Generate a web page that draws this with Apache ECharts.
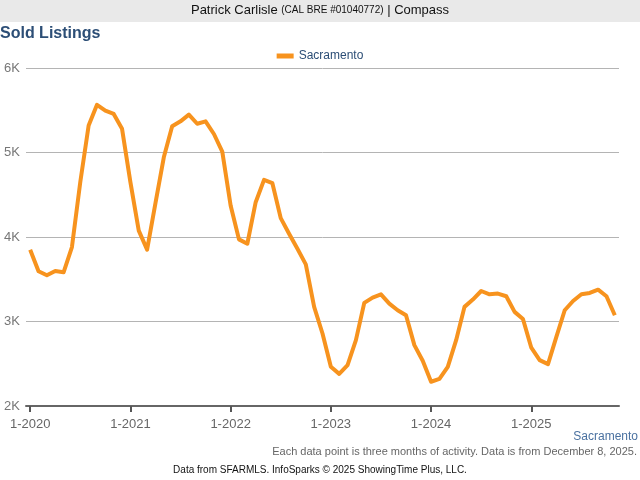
<!DOCTYPE html>
<html>
<head>
<meta charset="utf-8">
<script src="https://cdn.jsdelivr.net/npm/echarts@6/dist/echarts.min.js"></script>
<style>html,body{margin:0;padding:0;background:#fff}#c{width:640px;height:480px}</style>
</head>
<body>
<div id="c"></div>
<script>
const categories = [
 "1-2020","2-2020","3-2020","4-2020","5-2020","6-2020","7-2020","8-2020","9-2020","10-2020","11-2020","12-2020",
 "1-2021","2-2021","3-2021","4-2021","5-2021","6-2021","7-2021","8-2021","9-2021","10-2021","11-2021","12-2021",
 "1-2022","2-2022","3-2022","4-2022","5-2022","6-2022","7-2022","8-2022","9-2022","10-2022","11-2022","12-2022",
 "1-2023","2-2023","3-2023","4-2023","5-2023","6-2023","7-2023","8-2023","9-2023","10-2023","11-2023","12-2023",
 "1-2024","2-2024","3-2024","4-2024","5-2024","6-2024","7-2024","8-2024","9-2024","10-2024","11-2024","12-2024",
 "1-2025","2-2025","3-2025","4-2025","5-2025","6-2025","7-2025","8-2025","9-2025","10-2025","11-2025"
];
const sacramento = [
 3850,3594,3547,3597,3582,3881,4650,5320,5565,5495,5456,5280,
 4650,4075,3850,4400,4943,5310,5369,5448,5340,5369,5219,5010,
 4373,3972,3920,4412,4676,4637,4223,4039,3862,3676,3173,2858,
 2464,2380,2484,2779,3220,3283,3322,3212,3133,3074,2720,2535,
 2287,2320,2464,2779,3173,3259,3361,3322,3330,3299,3114,3030,
 2690,2543,2496,2818,3133,3243,3322,3338,3377,3299,3074
];
const yTicks = [2000,3000,4000,5000,6000];
const seriesName = "Sacramento";

const chart = echarts.init(document.getElementById('c'), null, {renderer:'canvas'});
const font = "'Liberation Sans', Arial, sans-serif";
chart.setOption({
  animation:false,
  textStyle:{fontFamily:font},
  graphic:[
    {type:'rect', shape:{x:0,y:0,width:640,height:22}, style:{fill:'#e9e9e9'}, z:-1},
    {type:'text', left:'center', top:4, style:{
      text:'{a|Patrick Carlisle }{b|(CAL BRE #01040772)}{a| | Compass}',
      rich:{a:{fontSize:13,fill:'#111',fontFamily:font}, b:{fontSize:10,fill:'#111',fontFamily:font}}
    }},
    {type:'text', left:0, top:26, style:{text:'Sold Listings', fontSize:16, fontWeight:'bold', fill:'#2c4e76', fontFamily:font}},
    {type:'text', right:2, top:431, style:{text:'Sacramento', fontSize:12, fill:'#4a71a0', fontFamily:font}},
    {type:'text', right:3, top:446, style:{text:'Each data point is three months of activity. Data is from December 8, 2025.', fontSize:11, fill:'#666', fontFamily:font}},
    {type:'text', left:'center', top:465, style:{text:'Data from SFARMLS. InfoSparks \u00a9 2025 ShowingTime Plus, LLC.', fontSize:10, fill:'#111', fontFamily:font}}
  ],
  legend:{
    top:45, left:'center', icon:'rect', itemWidth:17, itemHeight:5, itemGap:6,
    textStyle:{color:'#2c4e76', fontSize:12, fontFamily:font},
    data:[seriesName]
  },
  grid:{left:26, right:21, top:68, bottom:74, containLabel:false},
  xAxis:{
    type:'category', data:categories, boundaryGap:true,
    axisLine:{lineStyle:{color:'#666', width:2}},
    axisTick:{show:true, alignWithLabel:true, length:6, lineStyle:{color:'#555', width:2}, interval:11},
    axisLabel:{interval:11, color:'#666', fontSize:13, margin:12, fontFamily:font},
    splitLine:{show:false}
  },
  yAxis:{
    type:'value', min:yTicks[0], max:yTicks[yTicks.length-1], interval:1000,
    axisLine:{show:false}, axisTick:{show:false},
    axisLabel:{color:'#777', fontSize:13, margin:6, fontFamily:font, formatter:function(v){return (v/1000)+'K';}},
    splitLine:{lineStyle:{color:'#b4b4b4', width:1}}
  },
  series:[{
    name:seriesName, type:'line', data:sacramento, showSymbol:false, symbol:'none',
    lineStyle:{color:'#f7931e', width:4, join:'round'}, itemStyle:{color:'#f7931e'}
  }]
});
</script>
</body>
</html>
